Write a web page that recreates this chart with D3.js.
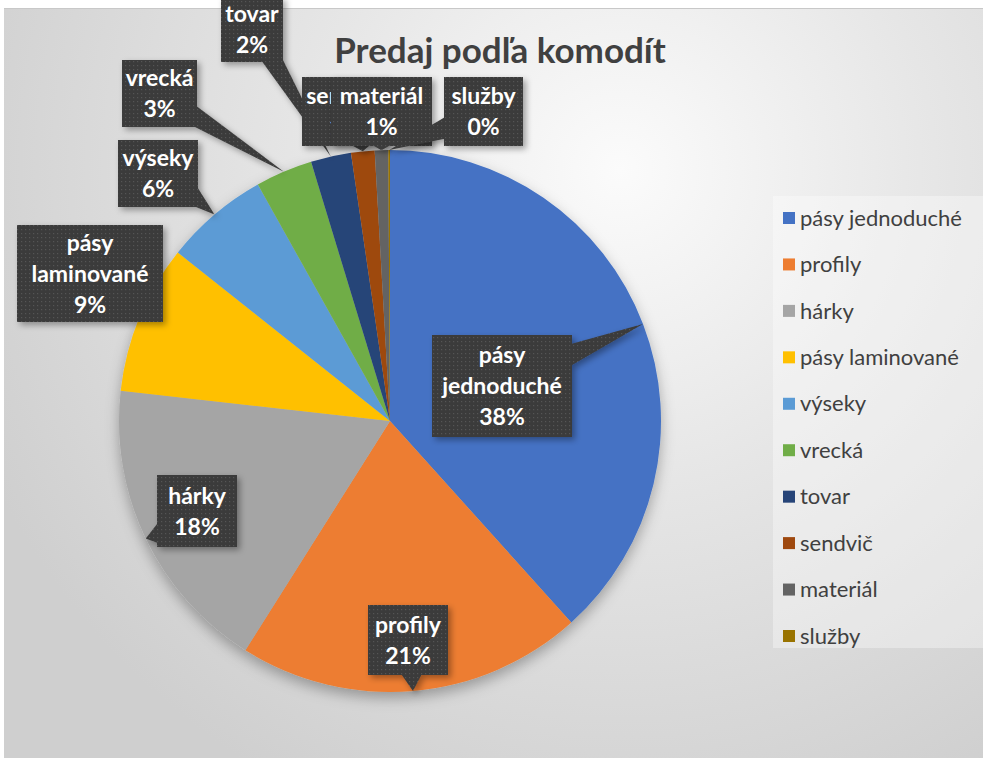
<!DOCTYPE html>
<html>
<head>
<meta charset="utf-8">
<script src="https://cdn.jsdelivr.net/npm/d3@7"></script>
<style>
	body { margin: 0; background: #fff; }
	svg { display: block; }
</style>
</head>
<body>
<svg id="chart" width="983" height="758"></svg>
<script>
// data (percent shares)
const categories = ['pásy jednoduché', 'profily', 'hárky', 'pásy laminované', 'výseky', 'vrecká', 'tovar', 'sendvič', 'materiál', 'služby'];
const values = [38.3, 20.6, 17.8, 8.9, 6.2, 3.4, 2.4, 1.4, 0.8, 0.1];
const colors = ['#4472C4', '#ED7D31', '#A5A5A5', '#FFC000', '#5B9BD5', '#70AD47', '#264478', '#9E480E', '#636363', '#997300'];
const title = 'Predaj podľa komodít';

// callout boxes, placed by hand like in the original
const labelBoxes = [
	{ x: 432, y: 335, w: 140, h: 102 },
	{ x: 368, y: 605, w: 80, h: 70 },
	{ x: 157, y: 475, w: 80, h: 72 },
	{ x: 17, y: 225, w: 146, h: 97 },
	{ x: 118, y: 140, w: 80, h: 67 },
	{ x: 122, y: 60, w: 75, h: 67 },
	{ x: 221, y: -3, w: 62, h: 65 },
	{ x: 302, y: 77, w: 86, h: 69 },
	{ x: 331, y: 77, w: 101, h: 69 },
	{ x: 444, y: 77, w: 79, h: 69 }
];

const width = 983, height = 758;
const cx = 390, cy = 421, radius = 271;

const svg = d3.select('#chart');
const defs = svg.append('defs');

let bg = defs.append('radialGradient')
	.attr('id', 'bg')
	.attr('gradientUnits', 'userSpaceOnUse')
	.attr('cx', 620).attr('cy', 170).attr('r', 700);
bg.append('stop').attr('offset', '0%').attr('stop-color', '#fbfbfb');
bg.append('stop').attr('offset', '45%').attr('stop-color', '#e6e6e6');
bg.append('stop').attr('offset', '100%').attr('stop-color', '#cfcfcf');

let dots = defs.append('pattern')
	.attr('id', 'dots')
	.attr('patternUnits', 'userSpaceOnUse')
	.attr('width', 4).attr('height', 4);
dots.append('rect').attr('width', 4).attr('height', 4).attr('fill', '#3b3b3b');
dots.append('rect').attr('x', 1).attr('y', 1).attr('width', 1.2).attr('height', 1.2).attr('fill', '#555');

let pieShadow = defs.append('filter').attr('id', 'pieShadow')
	.attr('x', '-20%').attr('y', '-20%').attr('width', '140%').attr('height', '140%');
pieShadow.append('feDropShadow')
	.attr('dx', 0).attr('dy', 6).attr('stdDeviation', 7)
	.attr('flood-color', '#000').attr('flood-opacity', 0.3);

let boxShadow = defs.append('filter').attr('id', 'boxShadow')
	.attr('x', '-20%').attr('y', '-20%').attr('width', '140%').attr('height', '140%');
boxShadow.append('feDropShadow')
	.attr('dx', 3).attr('dy', 3).attr('stdDeviation', 3)
	.attr('flood-color', '#000').attr('flood-opacity', 0.35);

// chart area
svg.append('rect')
	.attr('x', 4).attr('y', 8)
	.attr('width', width - 4).attr('height', height - 8)
	.attr('fill', 'url(#bg)');
svg.append('line')
	.attr('x1', 4).attr('x2', width).attr('y1', 8.5).attr('y2', 8.5)
	.attr('stroke', '#c8c8c8');

//-- pie --//
let pie = d3.pie().sort(null).value(d => d);
let arcs = pie(values);
let arc = d3.arc().innerRadius(0).outerRadius(radius);
let rim = d3.arc().innerRadius(radius).outerRadius(radius);

let pieGroup = svg.append('g')
	.attr('transform', `translate(${cx},${cy})`)
	.attr('filter', 'url(#pieShadow)');

pieGroup.selectAll('path')
	.data(arcs)
	.join('path')
	.attr('d', arc)
	.attr('fill', (d, i) => colors[i]);

//-- callouts --//
let total = d3.sum(values);

function wedgePoints(box, tip) {
	let bx = box.x + box.w / 2, by = box.y + box.h / 2;
	let dx = tip[0] - bx, dy = tip[1] - by;
	let hw = 11;
	// where the ray leaves the box
	let tx = dx !== 0 ? (box.w / 2) / Math.abs(dx) : Infinity;
	let ty = dy !== 0 ? (box.h / 2) / Math.abs(dy) : Infinity;
	if (Math.min(tx, ty) >= 1) return null;
	if (tx < ty) {
		let ex = bx + dx * tx - Math.sign(dx) * 2, ey = by + dy * tx;
		ey = Math.max(box.y + hw, Math.min(box.y + box.h - hw, ey));
		return [[ex, ey - hw], tip, [ex, ey + hw]];
	}
	let ex = bx + dx * ty, ey = by + dy * ty - Math.sign(dy) * 2;
	ex = Math.max(box.x + hw, Math.min(box.x + box.w - hw, ex));
	return [[ex - hw, ey], tip, [ex + hw, ey]];
}

function overlaps(a, b) {
	return b.x < a.x + a.w && b.x + b.w > a.x && b.y < a.y + a.h && b.y + b.h > a.y;
}

let labels = svg.append('g').attr('class', 'labels');

arcs.forEach(function(d, i) {
	let box = labelBoxes[i];
	let next = labelBoxes[i + 1];
	let c = rim.centroid(d);
	let tip = [cx + c[0], cy + c[1]];
	let g = labels.append('g').attr('filter', 'url(#boxShadow)');
	let wedge = wedgePoints(box, tip);

	if (wedge)
		g.append('path')
			.attr('d', d3.line()(wedge) + 'Z')
			.attr('fill', 'url(#dots)');

	g.append('rect')
		.attr('x', box.x).attr('y', box.y)
		.attr('width', box.w).attr('height', box.h)
		.attr('fill', 'url(#dots)');

	let lines = categories[i].split(' ');
	lines.push(Math.round(values[i] / total * 100) + '%');

	let lineH = 31;
	let y0 = box.y + box.h / 2 - (lines.length - 1) * lineH / 2;
	let text = labels.append('text')
		.attr('text-anchor', 'middle')
		.attr('font-family', 'Lato, "Open Sans", sans-serif')
		.attr('font-weight', 'bold')
		.attr('font-size', 23)
		.attr('fill', '#fff');

	// a label covered by the next box is only seen up to that box
	if (next && overlaps(box, next) && next.x > box.x) {
		let clipId = 'clip' + i;
		defs.append('clipPath').attr('id', clipId)
			.append('rect')
			.attr('x', box.x).attr('y', box.y)
			.attr('width', next.x - box.x).attr('height', box.h);
		text.attr('clip-path', `url(#${clipId})`);
	}

	lines.forEach(function(l, k) {
		text.append('tspan')
			.attr('x', box.x + box.w / 2)
			.attr('y', y0 + k * lineH)
			.attr('dy', '0.35em')
			.text(l);
	});
});

//-- legend --//
let legend = svg.append('g').attr('class', 'legend');
legend.append('rect')
	.attr('x', 773).attr('y', 196)
	.attr('width', 210).attr('height', 452)
	.attr('fill', '#fff').attr('fill-opacity', 0.35);

let legendY = d3.scalePoint()
	.domain(categories)
	.range([218, 636]);

let items = legend.selectAll('g.item')
	.data(categories)
	.join('g')
	.attr('class', 'item')
	.attr('transform', d => `translate(783,${legendY(d)})`);

items.append('rect')
	.attr('x', 0).attr('y', -6)
	.attr('width', 12).attr('height', 12)
	.attr('fill', (d, i) => colors[i]);

items.append('text')
	.attr('x', 17).attr('dy', '0.35em')
	.attr('font-family', 'Lato, "Open Sans", sans-serif')
	.attr('font-size', 22)
	.attr('fill', '#404040')
	.text(d => d);

//-- title --//
svg.append('text')
	.attr('x', 500).attr('y', 63)
	.attr('text-anchor', 'middle')
	.attr('font-family', 'Lato, "Open Sans", sans-serif')
	.attr('font-weight', 'bold')
	.attr('font-size', 35)
	.attr('fill', '#404040')
	.text(title);
</script>
</body>
</html>
